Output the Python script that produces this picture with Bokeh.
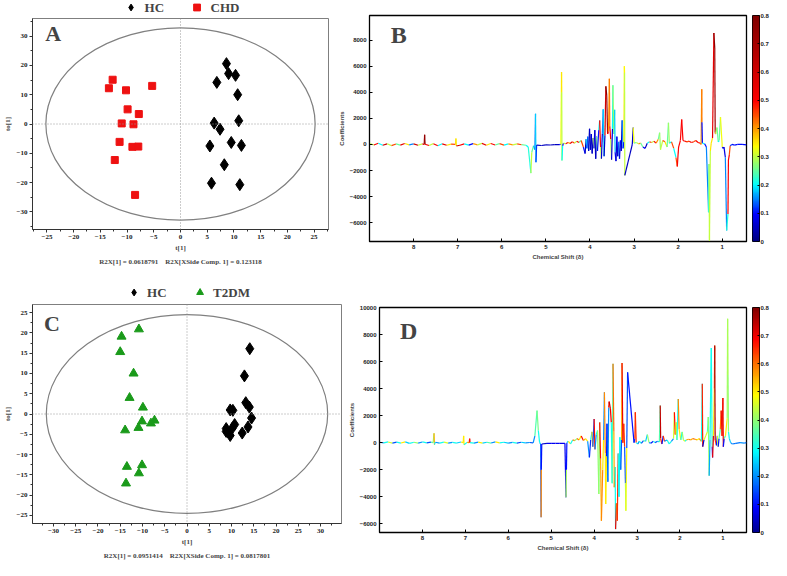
import numpy as np
from bokeh.plotting import figure
from bokeh.models import (Range1d, FixedTicker, Span, Legend, LegendItem, Title, Label,
                          ColumnDataSource, LinearColorMapper, PrintfTickFormatter)
from bokeh.layouts import row, column
from bokeh.transform import linear_cmap
from bokeh.embed import file_html
from bokeh.resources import INLINE

# ---------------- data: panel A (OPLS-DA scores HC vs CHD) ----------------
hcA_t = [8.6, 9.0, 10.3, 6.8, 10.7, 6.3, 10.9, 7.4, 5.5, 9.5, 11.4, 8.2, 5.8, 11.1]
hcA_to = [20.6, 17.2, 16.6, 14.2, 10.0, 0.3, 1.1, -1.8, -7.5, -6.3, -7.3, -13.9, -20.2, -20.7]
chd_t = [-12.7, -13.4, -10.2, -5.3, -9.9, -7.8, -11.0, -8.8, -11.4, -9.0, -7.9, -12.3, -8.5]
chd_to = [15.1, 12.2, 11.5, 13.0, 5.0, 3.4, 0.2, -0.1, -6.1, -7.8, -7.7, -12.3, -24.2]
ellipseA = [25.2, 32.8]          # semi-axes (t, to)
r2x_A = "R2X[1] = 0.0618791\u00a0\u00a0\u00a0\u00a0R2X[XSide Comp. 1] = 0.123118"

# ---------------- data: panel C (OPLS-DA scores HC vs T2DM) ----------------
hcC_t = [14.1, 12.9, 13.2, 14.0, 9.7, 10.3, 14.5, 13.7, 12.4, 10.7, 10.1, 8.8, 8.8, 9.7]
hcC_to = [16.1, 9.4, 2.8, 1.7, 1.0, 0.9, -1.0, -3.2, -4.7, -2.6, -3.6, -3.6, -4.3, -5.3]
t2dm_t = [-14.7, -10.8, -15.0, -12.0, -12.9, -9.9, -10.1, -7.3, -8.1, -10.9, -13.9, -13.5, -10.1, -10.8, -13.7]
t2dm_to = [19.1, 20.9, 15.3, 10.0, 4.0, 1.6, -1.8, -1.6, -2.3, -3.4, -4.0, -13.0, -12.6, -14.6, -17.1]
ellipseC = [31.6, 24.5]
r2x_C = "R2X[1] = 0.0951414\u00a0\u00a0\u00a0\u00a0R2X[XSide Comp. 1] = 0.0817801"

# ---------------- data: panel B (coefficient plot, CHD) ----------------
ppm_B = [9.00, 8.90, 8.80, 8.70, 8.60, 8.50, 8.40, 8.30, 8.20, 8.10, 8.00, 7.90, 7.80, 7.76, 7.75, 7.74,
         7.65, 7.55, 7.45, 7.35, 7.25, 7.15, 7.05, 7.04, 7.03, 6.95, 6.85, 6.75, 6.65, 6.55, 6.45, 6.35,
         6.25, 6.15, 6.05, 5.95, 5.85, 5.75, 5.65, 5.55, 5.45, 5.40, 5.36, 5.34, 5.32, 5.28, 5.25, 5.235,
         5.225, 5.21, 5.10, 5.00, 4.90, 4.80, 4.70, 4.66, 4.645, 4.64, 4.635, 4.62, 4.60, 4.55, 4.50, 4.45,
         4.40, 4.35, 4.30, 4.25, 4.20, 4.15, 4.11, 4.09, 4.07, 4.05, 4.03, 4.01, 3.99, 3.97, 3.95, 3.93,
         3.91, 3.89, 3.87, 3.85, 3.83, 3.80, 3.78, 3.76, 3.74, 3.72, 3.70, 3.68, 3.66, 3.64, 3.62, 3.60,
         3.58, 3.56, 3.55, 3.53, 3.51, 3.49, 3.48, 3.46, 3.44, 3.43, 3.41, 3.39, 3.37, 3.35, 3.33, 3.31,
         3.29, 3.27, 3.25, 3.23, 3.22, 3.215, 3.21, 3.04, 3.02, 3.00, 2.95, 2.90, 2.85, 2.80, 2.75, 2.70,
         2.65, 2.60, 2.55, 2.50, 2.45, 2.42, 2.40, 2.35, 2.30, 2.25, 2.22, 2.20, 2.15, 2.10, 2.05, 2.02,
         1.99, 1.95, 1.92, 1.89, 1.85, 1.80, 1.75, 1.70, 1.65, 1.60, 1.55, 1.50, 1.48, 1.465, 1.46, 1.45,
         1.40, 1.36, 1.31, 1.30, 1.29, 1.27, 1.25, 1.22, 1.19, 1.17, 1.16, 1.15, 1.12, 1.09, 1.07, 1.04,
         1.00, 0.98, 0.96, 0.93, 0.90, 0.87, 0.86, 0.84, 0.82, 0.78, 0.72, 0.65, 0.55, 0.45]
coef_B = [60, -40, 90, -60, 50, -90, 40, -50, 70, -30, 50, -60, 40, 0, 740, 20,
          -80, 60, -100, 50, -60, 30, 0, 460, -120, -60, 40, -50, 60, -30, 80, -60,
          70, -40, 60, -50, 40, -30, 50, -20, -60, -200, -1500, -2200, -600, -100, -400, 2360,
          -1360, -50, -80, -30, -40, -20, -10, 0, 5560, 4000, -1230, -100, 100, 50, 150, 80,
          200, 100, 250, 150, 300, -200, -700, 400, -300, 600, -500, 1200, -400, 800, -700, 500,
          -300, 1100, -1100, 600, -500, 1100, 1850, -200, -1100, 800, 2700, -900, 700, 4460, 3800, 800,
          1000, 5050, 1400, 400, -1180, 1200, 4540, 800, 2670, -600, -1280, 600, -900, 200, -1100, 300,
          -500, 1850, -300, 200, 6000, 5500, -2380, 0, 1300, 100, 150, 50, 100, -200, -300, 100,
          200, 150, 250, 100, 400, 900, -400, 300, 200, -200, 1670, 100, 200, -300, -1000, -1690,
          -200, 300, 1920, 300, 250, 200, 250, 150, 200, 300, 150, 100, 0, 4230, 1700, 100,
          50, -200, -5200, -1500, -7400, -500, 100, 500, 8560, 7400, 900, 800, 1300, 200, 300, 2100,
          -200, -300, -200, -1000, -6600, -5330, -1200, -800, -100, 0, -50, 0, 0, -30]
corr_B = [0.30, 0.50, 0.20, 0.60, 0.30, 0.45, 0.25, 0.55, 0.35, 0.15, 0.60, 0.30, 0.50, 0.70, 0.75, 0.50,
          0.30, 0.50, 0.20, 0.55, 0.35, 0.45, 0.35, 0.35, 0.60, 0.50, 0.20, 0.10, 0.40, 0.30, 0.55, 0.35,
          0.50, 0.25, 0.45, 0.20, 0.40, 0.30, 0.45, 0.25, 0.20, 0.22, 0.20, 0.30, 0.25, 0.18, 0.15, 0.18,
          0.12, 0.05, 0.05, 0.05, 0.05, 0.05, 0.10, 0.33, 0.35, 0.30, 0.20, 0.10, 0.30, 0.50, 0.40, 0.55,
          0.45, 0.30, 0.50, 0.25, 0.45, 0.10, 0.05, 0.20, 0.10, 0.15, 0.05, 0.05, 0.05, 0.06, 0.05, 0.30,
          0.10, 0.05, 0.05, 0.25, 0.10, 0.20, 0.50, 0.30, 0.06, 0.15, 0.18, 0.05, 0.60, 0.78, 0.70, 0.50,
          0.40, 0.42, 0.50, 0.30, 0.07, 0.20, 0.28, 0.25, 0.18, 0.10, 0.06, 0.10, 0.05, 0.15, 0.07, 0.10,
          0.05, 0.15, 0.10, 0.35, 0.34, 0.30, 0.05, 0.06, 0.33, 0.25, 0.30, 0.40, 0.25, 0.10, 0.05, 0.20,
          0.45, 0.30, 0.50, 0.40, 0.25, 0.28, 0.30, 0.45, 0.35, 0.25, 0.28, 0.20, 0.45, 0.20, 0.45, 0.50,
          0.50, 0.50, 0.50, 0.50, 0.48, 0.45, 0.50, 0.48, 0.45, 0.50, 0.48, 0.45, 0.40, 0.42, 0.10, 0.20,
          0.10, 0.15, 0.20, 0.30, 0.30, 0.35, 0.35, 0.55, 0.76, 0.72, 0.50, 0.30, 0.25, 0.20, 0.25, 0.33,
          0.10, 0.05, 0.08, 0.15, 0.22, 0.50, 0.50, 0.45, 0.12, 0.10, 0.10, 0.10, 0.10, 0.10]

# ---------------- data: panel D (coefficient plot, T2DM) ----------------
ppm_D = [9.00, 8.90, 8.80, 8.70, 8.60, 8.50, 8.40, 8.30, 8.20, 8.10, 8.00, 7.90, 7.80, 7.75, 7.73, 7.72,
         7.70, 7.60, 7.50, 7.40, 7.30, 7.20, 7.10, 7.05, 7.04, 7.03, 6.96, 6.91, 6.90, 6.89, 6.80, 6.70,
         6.60, 6.50, 6.40, 6.30, 6.20, 6.10, 6.00, 5.90, 5.80, 5.70, 5.60, 5.50, 5.42, 5.38, 5.33, 5.30,
         5.27, 5.245, 5.235, 5.23, 5.22, 5.10, 5.00, 4.90, 4.80, 4.68, 4.655, 4.645, 4.635, 4.60, 4.55, 4.50,
         4.45, 4.40, 4.35, 4.30, 4.25, 4.20, 4.15, 4.11, 4.08, 4.05, 4.03, 4.00, 3.98, 3.95, 3.92, 3.89,
         3.87, 3.85, 3.83, 3.80, 3.78, 3.76, 3.74, 3.73, 3.71, 3.70, 3.68, 3.66, 3.65, 3.62, 3.60, 3.58,
         3.56, 3.54, 3.53, 3.51, 3.50, 3.48, 3.46, 3.44, 3.42, 3.40, 3.38, 3.36, 3.35, 3.33, 3.31, 3.29,
         3.27, 3.26, 3.24, 3.22, 3.07, 3.05, 3.04, 3.02, 2.98, 2.95, 2.90, 2.85, 2.80, 2.76, 2.72, 2.68,
         2.62, 2.58, 2.52, 2.48, 2.46, 2.45, 2.42, 2.39, 2.36, 2.30, 2.25, 2.20, 2.15, 2.13, 2.11, 2.09,
         2.07, 2.04, 2.02, 1.98, 1.95, 1.92, 1.88, 1.85, 1.80, 1.75, 1.70, 1.65, 1.60, 1.55, 1.50, 1.48,
         1.47, 1.44, 1.40, 1.36, 1.34, 1.32, 1.30, 1.28, 1.27, 1.26, 1.25, 1.24, 1.22, 1.20, 1.19, 1.18,
         1.15, 1.13, 1.11, 1.09, 1.06, 1.04, 1.02, 1.00, 0.99, 0.97, 0.94, 0.90, 0.89, 0.88, 0.87, 0.85,
         0.82, 0.78, 0.70, 0.60, 0.50, 0.45]
coef_D = [30, -20, 50, -40, 40, -30, 60, -50, 30, -40, 50, -20, 40, 0, 690, -150,
          30, -30, 40, -40, 20, -30, 50, 0, 500, -150, 20, 0, 300, 0, -30, 40,
          -40, 30, -30, 60, -20, 30, -40, 20, -30, 30, -20, 10, -20, 500, 2370, 900,
          0, -100, -5530, -2000, -100, -50, -50, -60, -50, -50, -4050, -2000, 0, 100, -100, 200,
          150, 300, 200, 500, 150, 300, 100, -1090, 200, 800, -300, 1750, -500, 600, 900, -3800,
          1500, -1200, -5780, -2000, 200, 3730, -800, -4540, -1000, 1400, -2900, 2600, 3040, 2500, 1500, -3000,
          5830, 800, -3300, -1800, -6400, -4500, -5780, -800, -4000, 400, -2000, 200, 5900, 0, 1400, -300,
          -3000, -5040, -400, 5200, 0, 300, 2250, 0, -100, 100, -50, 150, 100, 600, 0, -50,
          100, 0, 100, 50, 2740, 300, -100, 500, 100, 200, -100, 100, 300, 2250, 600, 1500,
          200, 3230, 1000, 200, 800, 200, 100, 200, 250, 200, 300, 250, 200, 300, 100, 4350,
          -300, 200, 500, 800, 1900, -2450, 200, 5000, 7000, 3000, -300, -1100, 500, 4000, 7180, 200,
          -200, 500, -300, 300, 1000, 2370, 500, 3300, -300, 300, 500, 1800, 9160, 5000, 800, 300,
          0, -100, -50, 0, -30, 0]
corr_D = [0.20, 0.30, 0.45, 0.15, 0.30, 0.50, 0.25, 0.30, 0.40, 0.20, 0.30, 0.15, 0.35, 0.40, 0.55, 0.30,
          0.20, 0.30, 0.45, 0.20, 0.30, 0.25, 0.50, 0.50, 0.50, 0.30, 0.55, 0.65, 0.68, 0.30, 0.20, 0.50,
          0.25, 0.35, 0.20, 0.50, 0.30, 0.25, 0.20, 0.30, 0.15, 0.25, 0.20, 0.15, 0.20, 0.35, 0.38, 0.30,
          0.25, 0.15, 0.58, 0.10, 0.05, 0.08, 0.08, 0.08, 0.08, 0.08, 0.42, 0.10, 0.25, 0.50, 0.30, 0.58,
          0.40, 0.60, 0.50, 0.68, 0.55, 0.50, 0.20, 0.12, 0.30, 0.55, 0.15, 0.68, 0.20, 0.30, 0.40, 0.40,
          0.68, 0.55, 0.58, 0.50, 0.20, 0.58, 0.50, 0.50, 0.10, 0.12, 0.20, 0.68, 0.74, 0.70, 0.30, 0.35,
          0.60, 0.55, 0.58, 0.30, 0.70, 0.60, 0.65, 0.30, 0.28, 0.30, 0.15, 0.55, 0.70, 0.65, 0.65, 0.15,
          0.42, 0.48, 0.15, 0.10, 0.12, 0.65, 0.65, 0.30, 0.20, 0.30, 0.15, 0.35, 0.25, 0.40, 0.20, 0.10,
          0.30, 0.15, 0.25, 0.35, 0.74, 0.65, 0.10, 0.65, 0.20, 0.30, 0.30, 0.20, 0.45, 0.68, 0.55, 0.45,
          0.30, 0.58, 0.50, 0.30, 0.40, 0.45, 0.30, 0.55, 0.58, 0.55, 0.60, 0.55, 0.50, 0.58, 0.30, 0.66,
          0.05, 0.45, 0.45, 0.35, 0.40, 0.22, 0.30, 0.30, 0.30, 0.32, 0.10, 0.70, 0.50, 0.60, 0.76, 0.65,
          0.10, 0.45, 0.10, 0.35, 0.60, 0.70, 0.65, 0.70, 0.10, 0.35, 0.50, 0.42, 0.42, 0.40, 0.30, 0.25,
          0.20, 0.18, 0.18, 0.20, 0.18, 0.18]

cbar_ticks = [0, 0.1, 0.2, 0.3, 0.4, 0.5, 0.6, 0.7, 0.8]

# ---------------- styling helpers ----------------
SERIF = "Liberation Serif"
SANS = "Liberation Sans"


def palette_from_stops(stops, n=256):
    pos = [s[0] for s in stops]
    out = []
    for i in range(n):
        t = i / (n - 1)
        rgb = [int(round(np.interp(t, pos, [s[1][k] for s in stops]))) for k in range(3)]
        out.append("#%02x%02x%02x" % tuple(rgb))
    return out


pal_B = palette_from_stops([(0.0, (0, 0, 128)), (0.12, (0, 0, 255)), (0.25, (0, 255, 255)),
                            (0.33, (128, 255, 128)), (0.42, (255, 255, 0)), (0.52, (255, 128, 0)),
                            (0.62, (255, 0, 0)), (0.85, (175, 0, 0)), (1.0, (128, 0, 0))])
pal_D = palette_from_stops([(0.0, (0, 0, 143)), (0.11, (0, 0, 255)), (0.36, (0, 255, 255)),
                            (0.61, (255, 255, 0)), (0.86, (255, 0, 0)), (1.0, (128, 0, 0))])


def score_panel(width, height, xr, yr, xt, xminor, yt, yminor, mb):
    p = figure(width=width, height=height, x_range=Range1d(*xr), y_range=Range1d(*yr),
               output_backend="svg", toolbar_location=None,
               min_border_left=mb[0], min_border_right=mb[1], min_border_top=mb[2], min_border_bottom=mb[3])
    p.grid.visible = False
    p.outline_line_color = "#7f7f7f"
    p.xaxis.ticker = FixedTicker(ticks=xt, minor_ticks=xminor)
    p.yaxis.ticker = FixedTicker(ticks=yt, minor_ticks=yminor)
    for ax in (p.xaxis[0], p.yaxis[0]):
        ax.major_label_text_font = SERIF
        ax.major_label_text_font_style = "bold"
        ax.major_label_text_font_size = "7px"
        ax.major_label_text_color = "#222222"
        ax.axis_label_text_font = SERIF
        ax.axis_label_text_font_style = "bold"
        ax.axis_label_text_font_size = "7px"
        ax.axis_label_standoff = 2
        ax.major_label_standoff = 2
        ax.major_tick_out = 3
        ax.major_tick_in = 0
        ax.minor_tick_out = 2
        ax.minor_tick_in = 0
        ax.axis_line_color = "#333333"
        ax.major_tick_line_color = "#333333"
        ax.minor_tick_line_color = "#333333"
    p.xaxis.axis_label = "t[1]"
    p.yaxis.axis_label = "to[1]"
    for d in ("width", "height"):
        p.add_layout(Span(location=0, dimension=d, line_color="#999999", line_dash="1 2", line_width=1))
    return p


def legend_strip(width, height, top, entries):
    # a bare strip that only carries the legend shown above a score plot
    p = figure(width=width, height=height, x_range=Range1d(1, 2), y_range=Range1d(1, 2),
               output_backend="svg", toolbar_location=None, x_axis_location=None, y_axis_location=None,
               min_border_left=0, min_border_right=0, min_border_top=top, min_border_bottom=0)
    p.grid.visible = False
    p.outline_line_color = None
    items = []
    for label, marker, size, color in entries:
        r = p.scatter(x=[0], y=[0], marker=marker, size=size, color=color)
        items.append(LegendItem(label=label, renderers=[r]))
    leg = Legend(items=items, orientation="horizontal", location="center",
                 label_text_font=SERIF, label_text_font_style="bold", label_text_font_size="13px",
                 glyph_height=17, glyph_width=20, label_standoff=4, spacing=22, padding=0, margin=0,
                 border_line_color=None, background_fill_alpha=0, label_height=15)
    p.add_layout(leg, "center")
    return p


def spectrum_panel(width, height, yr, yt, ppm, coef, corr, pal, mb, letter, letter_y):
    p = figure(width=width, height=height, x_range=Range1d(9.0, 0.45), y_range=Range1d(*yr),
               output_backend="svg", toolbar_location=None,
               min_border_left=mb[0], min_border_right=mb[1], min_border_top=mb[2], min_border_bottom=mb[3])
    p.grid.visible = False
    p.outline_line_color = "black"
    p.outline_line_width = 1.3
    p.xaxis.ticker = FixedTicker(ticks=[1, 2, 3, 4, 5, 6, 7, 8])
    p.yaxis.ticker = FixedTicker(ticks=yt)
    for ax in (p.xaxis[0], p.yaxis[0]):
        ax.major_label_text_font = SANS
        ax.major_label_text_font_style = "bold"
        ax.major_label_text_font_size = "6px"
        ax.major_label_text_color = "#222222"
        ax.axis_label_text_font = SANS
        ax.axis_label_text_font_style = "bold"
        ax.axis_label_text_font_size = "6px"
        ax.axis_label_standoff = 2
        ax.major_label_standoff = 3
        ax.major_tick_out = 0
        ax.major_tick_in = 3
        ax.minor_tick_line_color = None
        ax.axis_line_color = "black"
    p.xaxis.axis_label = "Chemical Shift (\u03b4)"
    p.yaxis.axis_label = "Coefficients"
    src = ColumnDataSource(dict(x0=ppm[:-1], x1=ppm[1:], y0=coef[:-1], y1=coef[1:], c=corr[:-1]))
    p.segment(x0="x0", y0="y0", x1="x1", y1="y1", source=src, line_width=1.2,
              line_color=linear_cmap("c", pal, 0, 0.8))
    p.add_layout(Label(x=8.52, y=letter_y, text=letter, text_font=SERIF, text_font_style="bold",
                       text_font_size="24px", text_baseline="middle"))
    return p


def colorbar_panel(width, height, pal, mb):
    p = figure(width=width, height=height, x_range=Range1d(0, 1), y_range=Range1d(0, 0.8),
               output_backend="svg", toolbar_location=None, y_axis_location="right",
               min_border_left=mb[0], min_border_right=mb[1], min_border_top=mb[2], min_border_bottom=mb[3])
    p.grid.visible = False
    p.xaxis.visible = False
    p.outline_line_color = "black"
    mapper = LinearColorMapper(palette=pal, low=0, high=0.8)
    grad = np.linspace(0, 0.8, 256).reshape(-1, 1)
    p.image(image=[grad], x=0, y=0, dw=1, dh=0.8, color_mapper=mapper)
    ax = p.yaxis[0]
    ax.ticker = FixedTicker(ticks=cbar_ticks)
    ax.formatter = PrintfTickFormatter(format="%.1f")
    ax.major_label_overrides = {0: "0"}
    ax.major_label_text_font = SANS
    ax.major_label_text_font_style = "bold"
    ax.major_label_text_font_size = "6px"
    ax.major_label_text_color = "#222222"
    ax.major_label_standoff = 1
    ax.major_tick_in = 2
    ax.major_tick_out = 0
    ax.minor_tick_line_color = None
    ax.axis_line_color = None
    return p


# ---------------- Panel A ----------------
legA = legend_strip(335, 14, 0, [("HC", "diamond", 12, "black"), ("CHD", "square", 7, "#ee1111")])
pA = score_panel(335, 252, (-27.7, 27.7), (-36, 36),
                 [-25, -20, -15, -10, -5, 0, 5, 10, 15, 20, 25],
                 [-27.5, -22.5, -17.5, -12.5, -7.5, -2.5, 2.5, 7.5, 12.5, 17.5, 22.5, 27.5],
                 [-30, -20, -10, 0, 10, 20, 30],
                 [-35, -25, -15, -5, 5, 15, 25, 35], (17, 7, 4, 37))
pA.ellipse(x=[0], y=[0], width=[2 * ellipseA[0]], height=[2 * ellipseA[1]],
           fill_color=None, line_color="#808080", line_width=1.2)
pA.scatter(hcA_t, hcA_to, marker="diamond", size=12, color="black")
pA.scatter(chd_t, chd_to, marker="square", size=7, color="#ee1111")
pA.add_layout(Title(text=r2x_A, align="center", text_font=SERIF, text_font_style="bold",
                    text_font_size="7px", standoff=2), "below")
pA.add_layout(Label(x=-25.3, y=30.9, text="A", text_font=SERIF, text_font_style="bold",
                    text_font_size="22px", text_baseline="middle"))

# ---------------- Panel B ----------------
pB = spectrum_panel(413, 266, (-7450, 9900), [-6000, -4000, -2000, 0, 2000, 4000, 6000, 8000],
                    ppm_B, coef_B, corr_B, pal_B, (25, 2, 15, 25), "B", 8380)
pBc = colorbar_panel(23, 266, pal_B, (4, 10, 15, 25))

# ---------------- Panel C ----------------
legC = legend_strip(345, 34, 18, [("HC", "diamond", 12, "black"), ("T2DM", "triangle", 9, "#1a9a1a")])
pC = score_panel(345, 260, (-34.7, 34.7), (-27, 27),
                 [-30, -25, -20, -15, -10, -5, 0, 5, 10, 15, 20, 25, 30],
                 [-32.5, -27.5, -22.5, -17.5, -12.5, -7.5, -2.5, 2.5, 7.5, 12.5, 17.5, 22.5, 27.5, 32.5],
                 [-25, -20, -15, -10, -5, 0, 5, 10, 15, 20, 25],
                 [-22.5, -17.5, -12.5, -7.5, -2.5, 2.5, 7.5, 12.5, 17.5, 22.5], (17, 4, 4, 28))
pC.ellipse(x=[0], y=[0], width=[2 * ellipseC[0]], height=[2 * ellipseC[1]],
           fill_color=None, line_color="#808080", line_width=1.2)
pC.scatter(hcC_t, hcC_to, marker="diamond", size=12, color="black")
pC.scatter(t2dm_t, t2dm_to, marker="triangle", size=9, color="#1a9a1a")
pC.add_layout(Title(text=r2x_C, align="center", text_font=SERIF, text_font_style="bold",
                    text_font_size="7px", standoff=2), "below")
pC.add_layout(Label(x=-32.1, y=22.4, text="C", text_font=SERIF, text_font_style="bold",
                    text_font_size="22px", text_baseline="middle"))

# ---------------- Panel D ----------------
pD = spectrum_panel(403, 294, (-6650, 10000),
                    [-6000, -4000, -2000, 0, 2000, 4000, 6000, 8000, 10000],
                    ppm_D, coef_D, corr_D, pal_D, (24, 2, 41, 28), "D", 8260)
pDc = colorbar_panel(23, 294, pal_D, (4, 10, 41, 28))

layout = column(row(column(legA, pA), pB, pBc), row(column(legC, pC), pD, pDc))
open("out.html", "w").write(file_html(layout, INLINE))
